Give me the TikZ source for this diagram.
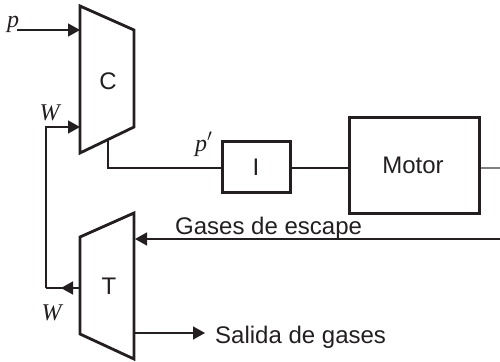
\documentclass[tikz,border=0pt]{standalone}
\usepackage{fontspec}
\setmainfont{Liberation Sans}
\newfontfamily\ital[Ligatures=TeX]{Liberation Serif}
\usetikzlibrary{arrows.meta}
\definecolor{ink}{HTML}{231F20}
\tikzset{
  x=1pt,y=-1pt,
  thick line/.style={draw=ink,line width=2.8pt,line join=miter},
  wire/.style={draw=ink,line width=1.5pt},
  flow/.style={wire,-{Triangle[length=12pt,width=13pt]}},
  blockbox/.style={draw=ink,line width=3pt,fill=white,inner sep=0pt,text=ink,font=\fontsize{24}{26}\selectfont},
  lbl/.style={text=ink,inner sep=0pt,font=\fontsize{24}{26}\selectfont},
  sym/.style={text=ink,inner sep=0pt,font=\ital\itshape\fontsize{24}{26}\selectfont}
}
\begin{document}
\begin{tikzpicture}
\useasboundingbox (0,0) rectangle (500,361);
% named points
\coordinate (pstart) at (17,30);
\coordinate (pin) at (80,30);
\coordinate (win) at (80,127);
\coordinate (wcorner) at (46,127);
\coordinate (wbot) at (46,288);
\coordinate (wout) at (80,288);
\coordinate (wtip) at (61,288);
\coordinate (cout) at (108,140);
\coordinate (cdown) at (108,168);
\coordinate (mright) at (500,168);
\coordinate (gstart) at (500,239);
\coordinate (gin) at (135,239);
\coordinate (sout) at (134,333);
\coordinate (send) at (205,333);
% trapezoids
\draw[thick line] (80,6) -- (134,30) -- (134,127) -- (80,153) -- cycle;
\draw[thick line] (80,237) -- (134,213) -- (134,359) -- (80,334) -- cycle;
\node[lbl] (C) at (108,81) {C};
\node[lbl] (T) at (109,286) {T};
% boxes
\node[blockbox,minimum width=68pt,minimum height=51pt] (I) at (256,167) {I};
\node[blockbox,minimum width=130pt,minimum height=96pt] (M) at (414,165) {\hspace{-2pt}Motor};
% connectors
\draw[flow] (pstart) -- (pin);
\draw[flow] (wbot) -- (wcorner) -- (win);
\draw[wire] (wbot) -- (wout);
\draw[flow] (wout) -- (wtip);
\draw[wire] (cout) -- (cdown) -- (I.west |- cdown);
\draw[wire] (I.east |- cdown) -- (M.west |- cdown);
\draw[draw=gray,line width=1.2pt] (M.east |- cdown) -- (mright);
\draw[flow] (gstart) -- (gin);
\draw[flow] (sout) -- (send);
% labels
\node[sym,anchor=base] (p) at (13,28) {p};
\node[sym,anchor=base] (W1) at (49.5,120) {W};
\node[sym,anchor=base] (W2) at (51.5,320) {W};
\node[sym,anchor=base west] (pp) at (195,151) {p$'$};
\node[lbl,anchor=base west] (gases) at (175,234) {Gases de escape};
\node[lbl,anchor=base west] (salida) at (215,343) {Salida de gases};
\end{tikzpicture}
\end{document}
